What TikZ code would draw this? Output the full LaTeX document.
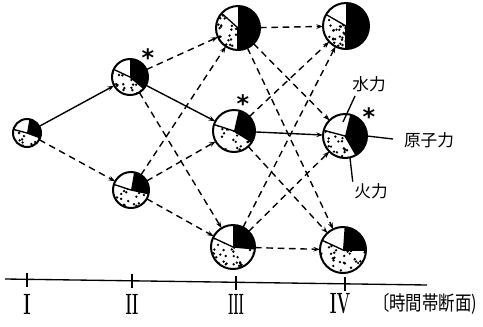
\documentclass[tikz,border=0pt]{standalone}
\usepackage{fontspec}
\usetikzlibrary{arrows.meta}
\newfontfamily\cjk{Noto Sans CJK JP}
\newfontfamily\symf{DejaVu Sans}
\newcommand\pienode[7]{%
  \node[circle, minimum size=#4*1.5pt, inner sep=0pt, outer sep=0pt] (#1) at (#2,-#3) {};
  \fill[black] (#1.center) -- ++(#5:#4*0.75pt) arc[start angle=#5, end angle=#6, radius=#4*0.75pt] -- cycle;
  \begin{scope}
    \clip (#1.center) -- ++(#7:#4*0.75pt) arc[start angle=#7, end angle=#5+360, radius=#4*0.75pt] -- cycle;
    \pgfmathtruncatemacro\ndots{#4*#4*0.13}
    \foreach \k in {1,...,\ndots}{%
      \pgfmathsetmacro\rx{rand*#4}%
      \pgfmathsetmacro\ry{rand*#4}%
      \fill (#2+\rx,-#3+\ry) circle[radius=1pt];
    }
  \end{scope}
  \draw[line width=1pt] (#1.center) -- ++(#7:#4*0.75pt);
  \draw[line width=1pt] (#1.center) -- ++(#5:#4*0.75pt);
  \draw[line width=1.5pt] (#1.center) circle[radius=#4*0.75pt];
}
\begin{document}
\begin{tikzpicture}[x=0.75pt,y=0.75pt,
  edge/.style={line width=1.05pt,-{Stealth[length=5pt,width=3.5pt]}},
  dedge/.style={edge,dash pattern=on 5pt off 3.5pt},
  star/.style={font=\symf\bfseries\fontsize{18}{18}\selectfont,inner sep=0pt},
  roman/.style={inner sep=0pt},
  lab/.style={font=\cjk\fontsize{12.5}{13}\selectfont,inner sep=1pt}]
\useasboundingbox (0,0) rectangle (483,-326);
\pgfmathsetseed{2024}
\pienode{I}{27}{133}{14}{-20}{80}{165}
\pienode{IIa}{130}{77}{18}{-40}{90}{155}
\pienode{IIb}{131}{190}{18}{-12}{80}{162}
\pienode{IIIa}{238}{28}{22}{-90}{90}{138}
\pienode{IIIb}{234}{131}{21}{-32}{77}{162}
\pienode{IIIc}{233}{247}{22}{-5}{90}{155}
\pienode{IVa}{346}{26}{23}{-90}{90}{150}
\pienode{IVb}{345}{136}{22}{-60}{76}{165}
\pienode{IVc}{343}{250}{23}{0}{86}{155}
% connectors
\draw[edge] (I) -- (IIa);
\draw[dedge] (I) -- (IIb);
\draw[dedge] (IIa) -- (IIIa);
\draw[edge] (IIa) -- (IIIb);
\draw[dedge] (IIa) -- (IIIc);
\draw[dedge] (IIb) -- (IIIa);
\draw[dedge] (IIb) -- (IIIb);
\draw[dedge] (IIb) -- (IIIc);
\draw[dedge] (IIIa) -- (IVa);
\draw[dedge] (IIIa) -- (IVb);
\draw[dedge] (IIIa) -- (IVc);
\draw[dedge] (IIIb) -- (IVa);
\draw[edge] (IIIb) -- (IVb);
\draw[dedge] (IIIb) -- (IVc);
\draw[dedge] (IIIc) -- (IVa);
\draw[dedge] (IIIc) -- (IVb);
\draw[dedge] (IIIc) -- (IVc);
% asterisks
\node[star] (s1) at (148,-58) {*};
\node[star] (s2) at (243,-104) {*};
\node[star] (s3) at (369,-117) {*};
% labels of IVb
\node[lab] (sui) at (369,-84) {水力};
\node[lab] (gen) at (429,-140) {原子力};
\node[lab] (kar) at (371,-191) {火力};
\coordinate (suiA) at (355,-96);
\coordinate (suiB) at (343,-122);
\coordinate (genB) at (393,-139);
\draw[line width=1pt] (suiA) -- (suiB);
\draw[line width=1pt] (IVb.east) -- (genB);
\draw[line width=1pt] (IVb.-77) -- (kar.north west);
% axis
\coordinate (ax0) at (5,-279);
\coordinate (ax1) at (427,-285);
\draw[line width=1pt] (ax0) -- (ax1);
\foreach \x/\y in {27/-279.5,132/-281,236/-282.5,345/-284}{
  \draw[line width=1.4pt] (\x,\y+7) -- (\x,\y-7);
}
\node[roman] (r1) at (27,-304) {\scalebox{0.6}[1]{\bfseries\fontsize{22}{22}\selectfont I}};
\node[roman] (r2) at (132,-304) {\scalebox{0.5}[1]{\bfseries\fontsize{22}{22}\selectfont II}};
\node[roman] (r3) at (236,-304) {\scalebox{0.4}[1]{\bfseries\fontsize{22}{22}\selectfont III}};
\node[roman] (r4) at (340,-304) {\scalebox{0.55}[1]{\bfseries\fontsize{22}{22}\selectfont IV}};
\node[inner sep=0pt] (cap) at (425,-304) {\scalebox{0.82}[1]{\cjk\fontsize{15}{15}\selectfont 〔時間帯断面)}};
\end{tikzpicture}
\end{document}
